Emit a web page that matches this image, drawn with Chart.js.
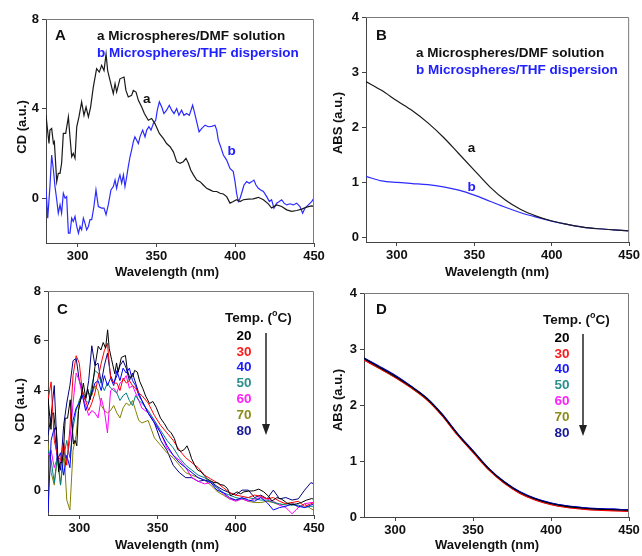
<!DOCTYPE html>
<html>
<head>
<meta charset="utf-8">
<script src="https://cdn.jsdelivr.net/npm/chart.js@4.4.1/dist/chart.umd.min.js"></script>
<style>
  body { margin: 0; background: #fff; }
  #wrap { position: relative; width: 642px; height: 556px; }
  #wrap canvas { position: absolute; left: 0; top: 0; }
</style>
</head>
<body>
<div id="wrap">
  <canvas id="chartA" width="642" height="556"></canvas>
  <canvas id="chartB" width="642" height="556"></canvas>
  <canvas id="chartC" width="642" height="556"></canvas>
  <canvas id="chartD" width="642" height="556"></canvas>
</div>
<script>
// ---- data ----
const xTicks = [300, 350, 400, 450];
const yTicksCD_A = [0, 4, 8];
const yTicksCD_C = [0, 2, 4, 6, 8];
const yTicksABS = [0, 1, 2, 3, 4];

// A: CD, microspheres in DMF (a) and in THF (b)
const wlDMF = [280.0,281.1,281.9,282.5,283.6,284.7,285.3,286.8,287.8,288.9,289.9,291.0,292.5,294.2,295.2,296.3,297.3,298.4,299.5,300.9,302.6,304.1,305.4,306.9,308.3,310.0,312.1,313.8,315.3,316.8,318.1,319.1,320.6,322.7,323.8,324.8,326.9,329.5,330.7,332.2,334.3,335.4,337.1,338.6,340.7,342.4,344.9,347.0,349.1,351.9,354.4,356.5,358.7,360.8,362.9,365.0,367.1,368.8,370.3,371.8,373.5,375.6,377.7,379.8,381.9,384.0,386.1,388.3,390.4,392.5,394.6,396.7,398.8,400.9,403.1,405.2,408.3,411.5,414.7,417.9,421.0,423.1,426.3,429.5,432.7,435.8,439.0,442.2,445.3,448.5,450.0];
const cdDMF = [3.70,2.96,2.44,3.04,3.11,2.44,2.52,0.74,1.11,1.11,1.56,2.89,2.89,3.63,2.74,1.85,2.00,1.78,3.19,3.63,4.30,3.70,4.07,3.63,4.07,4.96,5.78,5.63,5.93,5.70,6.44,5.70,5.26,4.67,5.11,4.74,5.33,5.41,4.81,4.52,4.59,4.81,4.74,4.37,4.07,3.78,3.48,3.56,3.33,2.89,2.67,2.44,2.30,2.07,1.63,1.56,1.63,1.78,1.56,1.26,1.04,0.81,0.74,0.59,0.44,0.37,0.30,0.30,0.22,0.19,0.07,-0.22,-0.15,-0.07,-0.15,-0.07,-0.04,-0.03,0.04,-0.07,-0.25,-0.44,-0.30,-0.37,-0.52,-0.59,-0.55,-0.49,-0.40,-0.34,-0.37];
const wlTHF = [280.0,281.1,282.5,283.6,284.7,285.7,286.8,287.8,288.9,289.9,291.0,292.1,293.1,294.2,295.2,296.3,297.3,298.4,299.5,300.6,301.6,302.6,303.7,304.7,305.8,306.9,307.9,309.0,310.4,311.7,313.2,315.3,316.8,318.1,319.5,321.2,322.7,323.8,324.8,325.9,326.9,328.0,329.1,330.1,331.2,332.2,333.3,334.3,335.4,336.4,337.5,338.6,339.6,341.3,342.8,343.9,345.3,346.6,348.1,349.6,350.6,351.9,353.4,354.8,356.5,358.2,359.7,361.2,362.9,364.3,366.0,367.5,369.2,370.9,373.0,374.1,375.6,377.1,378.7,380.9,383.0,385.1,387.2,388.3,389.3,390.8,392.5,394.6,396.7,398.8,399.9,400.9,402.0,403.1,404.1,405.6,407.3,409.0,410.5,411.9,413.2,414.7,416.2,417.9,420.0,421.7,423.1,424.6,426.3,428.0,429.5,431.0,432.7,434.8,436.9,439.0,441.1,442.8,444.3,446.4,448.5,450.0];
const cdTHF = [0.44,-0.89,0.52,1.93,1.26,0.52,-0.07,-0.67,-0.30,-0.67,0.22,0.00,0.07,-1.56,-1.56,-0.89,-1.04,-0.81,-1.26,-1.56,-1.26,-1.41,-0.89,-1.11,-1.41,-1.26,-0.96,-0.96,-0.37,0.37,-0.37,-0.44,-0.44,-0.74,-0.30,0.37,0.52,0.81,0.44,0.81,1.04,0.67,1.04,0.52,0.96,1.41,1.85,2.15,2.52,2.74,2.59,2.44,2.74,3.04,2.74,3.04,3.19,3.04,3.33,3.48,3.93,4.30,4.07,3.78,3.93,4.15,3.93,3.78,4.00,3.70,3.93,3.70,3.78,3.70,4.15,3.85,3.41,2.96,3.11,3.26,3.19,3.21,3.26,3.04,2.59,2.30,1.93,1.70,1.33,1.19,0.74,0.22,-0.15,0.00,0.22,0.59,0.74,0.67,0.74,0.81,0.59,0.44,0.37,0.30,0.07,-0.15,-0.07,-0.44,-0.22,-0.15,-0.07,-0.22,-0.30,-0.25,-0.30,-0.22,-0.37,-0.67,-0.44,-0.30,-0.15,0.00];

// B: absorbance
const wlAbs = [280,290,300,310,320,330,340,350,360,370,380,390,400,410,420,430,440,450];
const absDMF = [2.83,2.67,2.48,2.30,2.08,1.82,1.52,1.22,0.92,0.68,0.51,0.39,0.30,0.24,0.19,0.16,0.14,0.12];
const absTHF = [1.11,1.03,1.00,0.98,0.96,0.92,0.86,0.77,0.66,0.55,0.45,0.37,0.30,0.24,0.19,0.16,0.14,0.12];

// C: CD at temperatures (20 °C is the DMF curve of panel A)
const temps = ['20', '30', '40', '50', '60', '70', '80'];
const tempColors = ['#000000', '#ff0000', '#0000ff', '#008080', '#ff00ff', '#808000', '#000080'];
const tempTextColors = ['#000000', '#ff1a1a', '#1a1aff', '#2a8f8f', '#ff22ff', '#8c8c1a', '#1a1a99'];
const wlC = [280,282,284,286,288,290,292,294,296,298,300,302,304,306,308,310,312,314,316,318,320,322,324,326,328,330,332,334,336,338,340,344,348,352,356,360,364,368,372,376,380,384,388,392,396,400,404,408,412,416,420,424,428,432,436,440,444,448,450];
const cd30 = [3.6,4.35,2.0,1.4,1.2,1.9,1.0,2.5,4.6,5.4,5.1,3.9,3.6,3.2,3.5,3.9,4.5,5.1,5.6,5.9,4.5,4.3,4.3,4.0,4.5,4.3,4.4,4.2,4.1,3.9,3.8,3.5,3.0,2.6,2.3,2.0,1.6,1.3,1.1,0.9,0.6,0.45,0.3,0.1,-0.1,-0.2,-0.25,-0.3,-0.2,-0.25,-0.35,-0.3,-0.45,-0.55,-0.5,-0.45,-0.65,-0.55,-0.5];
const cd40 = [-0.9,2.0,2.5,1.2,1.5,0.6,1.4,0.9,2.8,3.3,3.5,3.8,3.2,3.5,3.9,4.3,4.4,4.0,4.6,4.2,4.5,4.2,4.8,4.4,4.9,4.7,4.9,4.4,4.2,3.8,3.6,3.1,2.7,2.3,1.8,1.4,1.1,0.9,0.7,0.5,0.4,0.3,0.0,-0.1,-0.3,-0.4,-0.3,-0.4,-0.45,-0.3,-0.5,-0.8,-0.7,-0.65,-0.55,-0.65,-0.7,-0.6,-0.55];
const cd50 = [1.6,1.2,0.3,1.4,0.2,1.3,2.0,1.3,2.5,3.2,3.6,3.9,3.6,3.5,4.2,4.8,4.7,4.3,4.0,4.3,4.1,4.0,3.9,3.6,3.8,3.9,3.6,3.4,3.8,3.6,3.5,3.2,2.8,2.4,2.0,1.7,1.3,1.0,0.8,0.6,0.5,0.3,0.1,-0.1,-0.2,-0.3,-0.35,-0.3,-0.35,-0.4,-0.4,-0.5,-0.55,-0.6,-0.6,-0.6,-0.7,-0.65,-0.65];
const cd60 = [1.4,1.6,0.9,1.3,1.1,1.5,1.2,2.0,3.5,4.7,4.4,3.8,3.4,3.0,3.2,3.1,2.9,3.7,3.2,2.3,4.0,4.1,3.9,4.3,4.4,4.6,4.1,4.2,3.9,3.6,3.3,3.1,2.8,2.3,1.7,1.4,1.2,0.9,0.5,0.35,0.25,0.3,0.1,-0.15,-0.35,-0.45,-0.35,-0.45,-0.35,-0.3,-0.35,-0.45,-0.6,-0.7,-0.95,-0.7,-0.55,-0.5,-0.5];
const cd70 = [1.9,0.7,0.2,1.3,0.2,1.8,-0.4,-0.8,1.6,2.2,3.6,3.9,3.8,3.9,3.8,4.2,4.0,3.4,3.2,3.1,3.2,3.4,3.1,2.9,3.3,3.5,3.4,3.6,3.2,2.8,2.7,2.8,2.1,1.8,1.5,1.3,1.0,0.7,0.6,0.5,0.4,0.2,-0.05,-0.2,-0.35,-0.4,-0.35,-0.45,-0.5,-0.5,-0.45,-0.5,-0.6,-0.55,-0.5,-0.7,-0.55,-0.75,-0.8];
const cd80 = [2.2,3.0,4.2,1.4,0.8,2.6,3.5,4.2,5.2,5.3,4.4,4.0,3.6,4.4,5.8,5.0,5.1,4.3,5.0,5.5,4.6,4.3,4.6,5.0,5.2,4.9,4.4,4.7,4.3,3.9,3.6,3.1,2.7,2.0,1.6,1.0,0.7,0.5,0.5,0.35,0.4,0.35,0.15,0.0,-0.1,-0.2,0.0,0.0,-0.3,-0.2,-0.35,0.0,-0.35,-0.3,-0.4,-0.35,0.0,0.3,0.25];

// D: absorbance at temperatures
const abs20 = [2.83,2.67,2.51,2.33,2.12,1.83,1.48,1.17,0.86,0.62,0.44,0.32,0.24,0.19,0.16,0.14,0.13,0.12];
const abs30 = [2.80,2.65,2.49,2.31,2.10,1.81,1.46,1.15,0.84,0.60,0.42,0.30,0.22,0.17,0.14,0.12,0.11,0.10];
const abs40 = [2.84,2.68,2.52,2.34,2.13,1.84,1.49,1.18,0.87,0.63,0.45,0.33,0.25,0.20,0.17,0.15,0.14,0.13];
const abs50 = [2.82,2.66,2.50,2.32,2.11,1.82,1.47,1.16,0.85,0.61,0.43,0.31,0.23,0.18,0.15,0.13,0.12,0.11];
const abs60 = [2.81,2.66,2.50,2.32,2.11,1.82,1.47,1.16,0.85,0.61,0.43,0.31,0.23,0.18,0.15,0.13,0.12,0.11];
const abs70 = [2.81,2.65,2.49,2.31,2.10,1.82,1.47,1.16,0.85,0.61,0.43,0.31,0.23,0.18,0.15,0.13,0.12,0.11];
const abs80 = [2.84,2.69,2.53,2.34,2.13,1.84,1.49,1.18,0.87,0.63,0.45,0.33,0.25,0.20,0.17,0.15,0.14,0.13];

// ---- drawing ----
const family = '"Liberation Sans", Arial, Helvetica, sans-serif';
const W = 642, H = 556;

function pts(xs, ys) {
  return xs.map((x, i) => ({ x: x, y: ys[i] }));
}

function line(label, xs, ys, color, width, smooth) {
  return {
    label: label,
    data: pts(xs, ys),
    borderColor: color,
    borderWidth: width,
    pointRadius: 0,
    fill: false,
    tension: smooth ? 0.4 : 0,
    cubicInterpolationMode: smooth ? 'monotone' : 'default'
  };
}

// text, frame and arrow drawn over each panel
const panelDeco = {
  id: 'panelDeco',
  afterDraw(chart, args, o) {
    const ctx = chart.ctx, a = chart.chartArea;
    const sx = chart.scales.x, sy = chart.scales.y;
    ctx.save();
    // grey frame on top and right
    ctx.strokeStyle = '#7a7a7a';
    ctx.lineWidth = 1;
    ctx.beginPath();
    ctx.moveTo(a.left, a.top + 0.5);
    ctx.lineTo(a.right - 0.5, a.top + 0.5);
    ctx.lineTo(a.right - 0.5, a.bottom);
    ctx.stroke();

    ctx.fillStyle = '#111';
    ctx.textBaseline = 'middle';
    ctx.font = 'bold 13px ' + family;
    ctx.textAlign = 'center';
    ctx.fillText(o.xTitle, o.xTitlePos[0], o.xTitlePos[1]);
    ctx.save();
    ctx.translate(o.yTitlePos[0], o.yTitlePos[1]);
    ctx.rotate(-Math.PI / 2);
    ctx.fillText(o.yTitle, 0, 0);
    ctx.restore();

    (o.texts || []).forEach(t => {
      ctx.font = 'bold ' + (t.size || 13.5) + 'px ' + family;
      ctx.fillStyle = t.color || '#111';
      ctx.textAlign = t.align || 'left';
      let x = t.x, y = t.y;
      if (t.data) { x = sx.getPixelForValue(t.x); y = sy.getPixelForValue(t.y); }
      ctx.fillText(t.text, x, y);
    });

    if (o.temp) {
      const p = o.temp;
      ctx.textAlign = 'left';
      ctx.fillStyle = '#111';
      ctx.font = 'bold 13.5px ' + family;
      let w = 0;
      ctx.fillText('Temp. (', p.x, p.y);
      w += ctx.measureText('Temp. (').width;
      ctx.font = 'bold 9px ' + family;
      ctx.fillText('o', p.x + w, p.y - 4);
      w += ctx.measureText('o').width;
      ctx.font = 'bold 13.5px ' + family;
      ctx.fillText('C)', p.x + w, p.y);
      ctx.textAlign = 'center';
      temps.forEach((t, i) => {
        ctx.fillStyle = tempTextColors[i];
        ctx.fillText(t, p.numX, p.numY + i * p.step);
      });
      // arrow
      ctx.strokeStyle = '#222';
      ctx.fillStyle = '#222';
      ctx.lineWidth = 1.5;
      ctx.beginPath();
      ctx.moveTo(p.arrowX, p.arrowTop);
      ctx.lineTo(p.arrowX, p.arrowBottom - 8);
      ctx.stroke();
      ctx.beginPath();
      ctx.moveTo(p.arrowX - 4, p.arrowBottom - 11);
      ctx.lineTo(p.arrowX + 4, p.arrowBottom - 11);
      ctx.lineTo(p.arrowX, p.arrowBottom);
      ctx.closePath();
      ctx.fill();
    }
    ctx.restore();
  }
};

function makeChart(id, box, yMin, yMax, yTicks, datasets, deco) {
  const tickFont = { family: family, size: 13, weight: 'bold' };
  const axisColor = '#444';
  return new Chart(document.getElementById(id), {
    type: 'line',
    data: { datasets: datasets },
    plugins: [panelDeco],
    options: {
      responsive: false,
      animation: false,
      devicePixelRatio: 1,
      events: [],
      layout: {
        padding: { left: box.l - 40, top: box.t, right: W - box.r, bottom: H - box.b - 30 }
      },
      scales: {
        x: {
          type: 'linear', min: 280, max: 450,
          afterBuildTicks: s => { s.ticks = xTicks.map(v => ({ value: v })); },
          afterFit: s => { s.height = 30; },
          grid: { drawOnChartArea: false, drawTicks: true, tickLength: 4, color: axisColor },
          border: { display: true, color: axisColor, width: 1 },
          ticks: { color: '#111', font: tickFont, padding: 2, maxRotation: 0, autoSkip: false }
        },
        y: {
          type: 'linear', min: yMin, max: yMax,
          afterBuildTicks: s => { s.ticks = yTicks.map(v => ({ value: v })); },
          afterFit: s => { s.width = 40; },
          grid: { drawOnChartArea: false, drawTicks: true, tickLength: 4, color: axisColor },
          border: { display: true, color: axisColor, width: 1 },
          ticks: { color: '#111', font: tickFont, padding: 3, autoSkip: false }
        }
      },
      plugins: {
        legend: { display: false },
        tooltip: { enabled: false },
        panelDeco: deco
      }
    }
  });
}

// A
makeChart('chartA', { l: 46, t: 19, r: 314, b: 243 }, -2, 8, yTicksCD_A, [
  line('a', wlDMF, cdDMF, '#1a1a1a', 1.2, false),
  line('b', wlTHF, cdTHF, '#2b2bff', 1.2, false)
], {
  xTitle: 'Wavelength (nm)', xTitlePos: [167, 272],
  yTitle: 'CD (a.u.)', yTitlePos: [22, 127],
  texts: [
    { text: 'A', x: 55, y: 36, size: 15 },
    { text: 'a Microspheres/DMF solution', x: 97, y: 36 },
    { text: 'b Microspheres/THF dispersion', x: 97, y: 53, color: '#2020ff' },
    { text: 'a', x: 343.9, y: 4.42, data: true, align: 'center' },
    { text: 'b', x: 397.8, y: 2.08, data: true, align: 'center', color: '#2020ff' }
  ]
});

// B
makeChart('chartB', { l: 366, t: 17, r: 632, b: 242 }, -0.08, 4, yTicksABS, [
  line('a', wlAbs, absDMF, '#1a1a1a', 1.2, true),
  line('b', wlAbs, absTHF, '#2b2bff', 1.2, true)
], {
  xTitle: 'Wavelength (nm)', xTitlePos: [497, 272],
  yTitle: 'ABS (a.u.)', yTitlePos: [338, 123],
  texts: [
    { text: 'B', x: 376, y: 36, size: 15 },
    { text: 'a Microspheres/DMF solution', x: 416, y: 53 },
    { text: 'b Microspheres/THF dispersion', x: 416, y: 70, color: '#2020ff' },
    { text: 'a', x: 348.2, y: 1.62, data: true, align: 'center' },
    { text: 'b', x: 348.2, y: 0.91, data: true, align: 'center', color: '#2020ff' }
  ]
});

// C
const cdTemps = [cd30, cd40, cd50, cd60, cd70, cd80];
const dsC = [line('20', wlDMF, cdDMF, tempColors[0], 1, false)];
cdTemps.forEach((vals, i) => dsC.push(line(temps[i + 1], wlC, vals, tempColors[i + 1], 1, false)));
makeChart('chartC', { l: 48, t: 291, r: 314, b: 515 }, -1, 8, yTicksCD_C, dsC, {
  xTitle: 'Wavelength (nm)', xTitlePos: [167, 545],
  yTitle: 'CD (a.u.)', yTitlePos: [20, 405],
  texts: [{ text: 'C', x: 57, y: 310, size: 15 }],
  temp: { x: 225, y: 318, numX: 244, numY: 336, step: 15.8, arrowX: 266, arrowTop: 333, arrowBottom: 435 }
});

// D
const absTemps = [abs20, abs30, abs40, abs50, abs60, abs70, abs80];
const dsD = absTemps.map((vals, i) => line(temps[i], wlAbs, vals, tempColors[i], 1.1, true));
makeChart('chartD', { l: 364, t: 293, r: 629, b: 517 }, 0, 4, yTicksABS, dsD, {
  xTitle: 'Wavelength (nm)', xTitlePos: [487, 545],
  yTitle: 'ABS (a.u.)', yTitlePos: [338, 400],
  texts: [{ text: 'D', x: 376, y: 310, size: 15 }],
  temp: { x: 543, y: 320, numX: 562, numY: 338, step: 15.8, arrowX: 583, arrowTop: 334, arrowBottom: 436 }
});
</script>
</body>
</html>
